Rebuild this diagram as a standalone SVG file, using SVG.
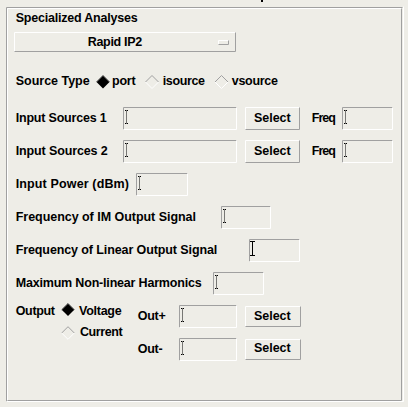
<svg xmlns="http://www.w3.org/2000/svg" width="408" height="407" viewBox="0 0 408 407">
<style>
text{font-family:"Liberation Sans",Arial,sans-serif;font-weight:bold;font-size:12.5px;fill:#000}
.dk{stroke:#a0a0a0;stroke-width:1;fill:none}
.lt{stroke:#ffffff;stroke-width:1;fill:none}
.cur{stroke:#000;stroke-width:1;fill:none;stroke-dasharray:1 1}
</style>
<defs>
<g id="fieldCursor"><path class="cur" d="M2.5 3.5V16.5M1 3.5H4M1 16.5H4"/></g>
</defs>
<rect width="408" height="407" fill="#eeede7"/>
<rect x="261" y="0" width="2" height="2" fill="#000"/>
<g id="frame">
<path class="dk" d="M6.5 401.5V7.5H402.5"/>
<path class="lt" d="M7.5 400.5V8.5H401.5"/>
<path class="dk" d="M7.5 400.5H401.5V8.5"/>
<path class="lt" d="M6.5 401.5H403.5V6.5"/>
</g>
<g id="title"><text x="15.7" y="22" textLength="122">Specialized Analyses</text></g>
<g id="dropdown">
<path class="lt" d="M14.5 51.5V32.5H235.5"/>
<path class="dk" d="M14.5 51.5H235.5V32.5"/>
<text x="87.7" y="46" textLength="54.6">Rapid IP2</text>
<path class="lt" d="M218.5 44.5V40.5H228.5"/>
<path class="dk" d="M218.5 44.5H228.5V40.5"/>
</g>
<g id="sourceType">
<text x="15.7" y="84.5" textLength="74">Source Type</text>
<path d="M103 75.5L109.5 82L103 88.5L96.5 82Z" fill="#000"/>
<path d="M96.5 82L103 75.5L109.5 82" stroke="#555" fill="none"/>
<text x="112" y="84.5" textLength="23.7">port</text>
<path d="M145.5 82L152 75.5L158.5 82" class="dk"/>
<path d="M145.5 82L152 88.5L158.5 82" class="lt"/>
<text x="162.7" y="84.5" textLength="42.3">isource</text>
<path d="M215 82L221.5 75.5L228 82" class="dk"/>
<path d="M215 82L221.5 88.5L228 82" class="lt"/>
<text x="231.7" y="84.5" textLength="46.3">vsource</text>
</g>
<g id="inputSources1">
<text x="15.7" y="121.5" textLength="91">Input Sources 1</text>
<path class="dk" d="M123.5 129.5V107.5H236.5"/>
<path class="lt" d="M123.5 129.5H236.5V107.5"/>
<use href="#fieldCursor" x="124" y="107"/>
<path class="lt" d="M245.5 129.5V107.5H299.5"/>
<path class="dk" d="M245.5 129.5H299.5V107.5"/>
<text x="254" y="122" textLength="36.7">Select</text>
<text x="311.7" y="122" textLength="24.3">Freq</text>
<path class="dk" d="M342.5 129.5V107.5H392.5"/>
<path class="lt" d="M342.5 129.5H392.5V107.5"/>
<use href="#fieldCursor" x="343" y="107"/>
</g>
<g id="inputSources2">
<text x="15.7" y="155" textLength="92">Input Sources 2</text>
<path class="dk" d="M123.5 162.5V140.5H236.5"/>
<path class="lt" d="M123.5 162.5H236.5V140.5"/>
<use href="#fieldCursor" x="124" y="140"/>
<path class="lt" d="M245.5 162.5V140.5H299.5"/>
<path class="dk" d="M245.5 162.5H299.5V140.5"/>
<text x="254" y="155" textLength="36.7">Select</text>
<text x="311.7" y="155" textLength="24.3">Freq</text>
<path class="dk" d="M342.5 162.5V140.5H392.5"/>
<path class="lt" d="M342.5 162.5H392.5V140.5"/>
<use href="#fieldCursor" x="343" y="140"/>
</g>
<g id="inputPower">
<text x="15.7" y="188" textLength="113.3">Input Power (dBm)</text>
<path class="dk" d="M136.5 195.5V173.5H187.5"/>
<path class="lt" d="M136.5 195.5H187.5V173.5"/>
<use href="#fieldCursor" x="137" y="173"/>
</g>
<g id="imFreq">
<text x="15.7" y="221" textLength="180.3">Frequency of IM Output Signal</text>
<path class="dk" d="M221.5 228.5V206.5H270.5"/>
<path class="lt" d="M221.5 228.5H270.5V206.5"/>
<use href="#fieldCursor" x="222" y="206"/>
</g>
<g id="linearFreq">
<text x="15.7" y="254" textLength="201.6">Frequency of Linear Output Signal</text>
<path class="dk" d="M249.5 261.5V239.5H299.5"/>
<path class="lt" d="M249.5 261.5H299.5V239.5"/>
<path d="M252.5 241.5V255.5M250 241.5H255M250 255.5H255" stroke="#000" fill="none"/>
</g>
<g id="maxHarmonics">
<text x="15.7" y="287" textLength="186">Maximum Non-linear Harmonics</text>
<path class="dk" d="M213.5 294.5V272.5H263.5"/>
<path class="lt" d="M213.5 294.5H263.5V272.5"/>
<use href="#fieldCursor" x="214" y="272"/>
</g>
<g id="output">
<text x="15.7" y="314.5" textLength="39.3">Output</text>
<path d="M68 303.5L74.3 309.8L68 316.1L61.7 309.8Z" fill="#000"/>
<path d="M61.7 309.8L68 303.5L74.3 309.8" stroke="#555" fill="none"/>
<text x="79" y="314.5" textLength="42.7">Voltage</text>
<path d="M61.7 333L68 326.7L74.3 333" class="dk"/>
<path d="M61.7 333L68 339.3L74.3 333" class="lt"/>
<text x="80" y="335.5" textLength="42.7">Current</text>
</g>
<g id="outPlus">
<text x="137.7" y="319.5" textLength="28">Out+</text>
<path class="dk" d="M179.5 327.5V305.5H236.5"/>
<path class="lt" d="M179.5 327.5H236.5V305.5"/>
<use href="#fieldCursor" x="180" y="305"/>
<path class="lt" d="M245.5 326.5V306.5H300.5"/>
<path class="dk" d="M245.5 326.5H300.5V306.5"/>
<text x="254" y="320" textLength="36.7">Select</text>
</g>
<g id="outMinus">
<text x="137.7" y="352.5" textLength="25">Out-</text>
<path class="dk" d="M179.5 360.5V338.5H236.5"/>
<path class="lt" d="M179.5 360.5H236.5V338.5"/>
<use href="#fieldCursor" x="180" y="338"/>
<path class="lt" d="M245.5 359.5V339.5H300.5"/>
<path class="dk" d="M245.5 359.5H300.5V339.5"/>
<text x="254" y="352" textLength="36.7">Select</text>
</g>
</svg>
